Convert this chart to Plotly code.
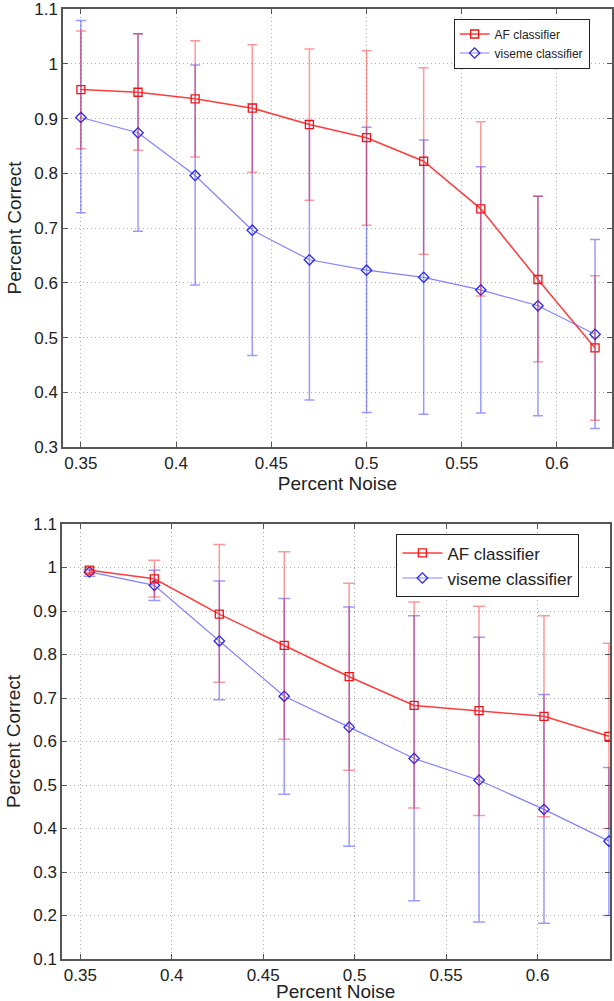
import plotly.graph_objects as go

# ---- data (top panel) ----
x_top = [0.35, 0.38, 0.41, 0.44, 0.47, 0.50, 0.53, 0.56, 0.59, 0.62]
af_top = [0.953, 0.948, 0.936, 0.919, 0.889, 0.865, 0.822, 0.735, 0.606, 0.481]
af_top_hi = [1.060, 1.055, 1.042, 1.035, 1.027, 1.024, 0.993, 0.894, 0.758, 0.613]
af_top_lo = [0.845, 0.842, 0.830, 0.802, 0.751, 0.705, 0.652, 0.576, 0.456, 0.349]
vis_top = [0.902, 0.874, 0.796, 0.696, 0.642, 0.623, 0.610, 0.587, 0.558, 0.506]
vis_top_hi = [1.079, 1.055, 0.998, 0.927, 0.897, 0.884, 0.861, 0.812, 0.758, 0.679]
vis_top_lo = [0.728, 0.694, 0.596, 0.467, 0.386, 0.363, 0.360, 0.362, 0.357, 0.334]

# ---- data (bottom panel) ----
x_bot = [0.355, 0.3905, 0.426, 0.4615, 0.497, 0.5325, 0.568, 0.6035, 0.639]
af_bot = [0.994, 0.974, 0.893, 0.821, 0.749, 0.683, 0.671, 0.658, 0.612]
af_bot_hi = [1.000, 1.017, 1.053, 1.036, 0.964, 0.921, 0.911, 0.889, 0.826]
af_bot_lo = [0.988, 0.932, 0.736, 0.605, 0.534, 0.447, 0.430, 0.427, 0.400]
vis_bot = [0.990, 0.959, 0.831, 0.704, 0.633, 0.561, 0.511, 0.444, 0.371]
vis_bot_hi = [0.995, 0.994, 0.969, 0.929, 0.909, 0.889, 0.840, 0.708, 0.540]
vis_bot_lo = [0.980, 0.924, 0.696, 0.479, 0.359, 0.234, 0.185, 0.182, 0.200]

series_names = ["AF classifier", "viseme classifier"]
x_title = "Percent Noise"
y_title = "Percent Correct"

RED_LINE = "rgb(255,60,60)"
RED_MARK = "rgb(240,20,20)"
RED_ERR = "rgba(255,0,0,0.4)"
BLUE_LINE = "rgb(130,130,255)"
BLUE_MARK = "rgb(40,40,240)"
BLUE_ERR = "rgba(0,0,255,0.4)"
FONT = "Liberation Sans, Arial, Helvetica, sans-serif"


def err(vals, hi, lo):
    return dict(type="data", symmetric=False,
                array=[h - v for h, v in zip(hi, vals)],
                arrayminus=[v - l for v, l in zip(vals, lo)])


fig = go.Figure()


def add_panel(x, af, af_hi, af_lo, vis, vis_hi, vis_lo, xa, ya, leg, capw, lw_red, lw_blue):
    e = err(vis, vis_hi, vis_lo)
    e.update(color=BLUE_ERR, thickness=1.5, width=capw)
    fig.add_trace(go.Scatter(
        x=x, y=vis, name=series_names[1], mode="lines+markers",
        xaxis=xa, yaxis=ya, legend=leg, legendrank=2,
        line=dict(color=BLUE_LINE, width=lw_blue),
        marker=dict(symbol="diamond-open", size=8, color=BLUE_MARK, line=dict(width=1.3, color=BLUE_MARK)),
        error_y=e))
    e = err(af, af_hi, af_lo)
    e.update(color=RED_ERR, thickness=1.5, width=capw)
    fig.add_trace(go.Scatter(
        x=x, y=af, name=series_names[0], mode="lines+markers",
        xaxis=xa, yaxis=ya, legend=leg, legendrank=1,
        line=dict(color=RED_LINE, width=lw_red),
        marker=dict(symbol="square-open", size=8, color=RED_MARK, line=dict(width=1.3, color=RED_MARK)),
        error_y=e))


add_panel(x_top, af_top, af_top_hi, af_top_lo, vis_top, vis_top_hi, vis_top_lo,
          "x", "y", "legend", 5, 1.5, 1.2)
add_panel(x_bot, af_bot, af_bot_hi, af_bot_lo, vis_bot, vis_bot_hi, vis_bot_lo,
          "x2", "y2", "legend2", 6, 1.5, 1.2)

axis_common = dict(
    showline=True, linecolor="#555555", linewidth=1.5, mirror="ticks",
    ticks="inside", ticklen=5, tickcolor="#555555", tickwidth=1,
    showgrid=True, gridcolor="rgb(175,175,175)", griddash="1px,3px", gridwidth=1,
    zeroline=False, tickfont=dict(size=17, color="#222222", family=FONT),
)

fig.update_layout(
    width=614, height=1001,
    margin=dict(l=62, r=0, t=9, b=42),
    paper_bgcolor="white", plot_bgcolor="white",
    font=dict(family=FONT, color="#222222"),
    xaxis=dict(axis_common, domain=[1 / 552, 1.0], anchor="y",
               range=[0.3406, 0.6289], tick0=0.35, dtick=0.05,
               title=dict(text=x_title, font=dict(size=19), standoff=0)),
    yaxis=dict(axis_common, domain=[0.5389, 1.0], anchor="x",
               range=[0.3, 1.1001], tick0=0.3, dtick=0.1,
               title=dict(text=y_title, font=dict(size=19), standoff=8)),
    xaxis2=dict(axis_common, domain=[0, 550 / 552], anchor="y2",
                range=[0.3400, 0.6396], tick0=0.35, dtick=0.05),
    yaxis2=dict(axis_common, domain=[0.0, 0.4579], anchor="x2",
                range=[0.1, 1.1001], tick0=0.1, dtick=0.1,
                title=dict(text=y_title, font=dict(size=19), standoff=8)),
    legend=dict(x=0.712, y=0.990, xanchor="left", yanchor="top",
                bgcolor="white", bordercolor="#222222", borderwidth=1,
                font=dict(size=12, color="#222222"), itemwidth=30,
                tracegroupgap=0),
    legend2=dict(x=0.608, y=0.447, xanchor="left", yanchor="top",
                 bgcolor="white", bordercolor="#222222", borderwidth=1,
                 font=dict(size=17, color="#222222"), itemwidth=40,
                 tracegroupgap=0),
    annotations=[dict(text=x_title, xref="paper", yref="paper",
                      x=0.498, y=-0.0347, xanchor="center", yanchor="middle",
                      showarrow=False, font=dict(size=19, color="#222222"))],
)

fig.write_html("out.html", config={"displayModeBar": False},
               post_script="document.body.style.margin='0';")
